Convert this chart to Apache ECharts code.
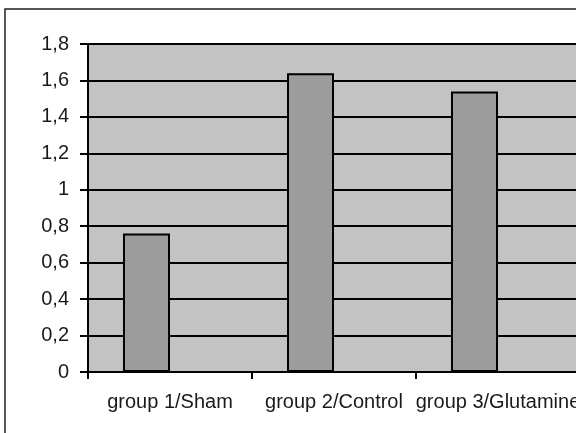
<!DOCTYPE html>
<html>
<head>
<meta charset="utf-8">
<script src="https://cdn.jsdelivr.net/npm/echarts@6/dist/echarts.min.js"></script>
<style>html,body{margin:0;padding:0;background:#fff}#c{width:576px;height:433px}</style>
</head>
<body>
<div id="c"></div>
<script>
var categories = ['group 1/Sham', 'group 2/Control', 'group 3/Glutamine'];
var values = [0.76, 1.64, 1.54];
var emptySeries = [null, null, null];
var yTicks = { min: 0, max: 1.8, interval: 0.2 };

var chart = echarts.init(document.getElementById('c'), null, { renderer: 'canvas' });
chart.setOption({
  animation: false,
  backgroundColor: '#ffffff',
  graphic: [{
    type: 'rect', z: -10,
    shape: { x: 5, y: 9, width: 600, height: 460 },
    style: { fill: 'none', stroke: '#222', lineWidth: 1.5 }
  }],
  grid: {
    left: 88, top: 44, width: 492, height: 328,
    outerBoundsMode: 'none', containLabel: false,
    show: true, backgroundColor: '#c3c3c3', borderWidth: 0
  },
  xAxis: {
    type: 'category',
    data: categories,
    axisLine: { lineStyle: { color: '#000', width: 2 } },
    axisTick: { show: true, length: 7, lineStyle: { color: '#000', width: 2 } },
    axisLabel: { color: '#1a1a1a', fontFamily: 'Liberation Sans, Arial', fontSize: 20, margin: 20, interval: 0, hideOverlap: false },
    splitLine: { show: false }
  },
  yAxis: {
    type: 'value',
    min: yTicks.min, max: yTicks.max, interval: yTicks.interval,
    axisLine: { show: true, lineStyle: { color: '#000', width: 2 } },
    axisTick: { show: true, length: 8, lineStyle: { color: '#000', width: 2 } },
    axisLabel: {
      color: '#1a1a1a', fontFamily: 'Liberation Sans, Arial', fontSize: 20, margin: 19,
      formatter: function (v) { return (Math.round(v * 10) / 10).toString().replace('.', ','); }
    },
    splitLine: { show: true, lineStyle: { color: '#000', width: 2 } }
  },
  series: [{
    type: 'bar',
    data: values,
    barWidth: 47,
    barGap: '0%',
    itemStyle: { color: '#9c9c9c', borderColor: '#000', borderWidth: 2 }
  }, {
    type: 'bar',
    data: emptySeries,
    barWidth: 47
  }]
});
</script>
</body>
</html>
